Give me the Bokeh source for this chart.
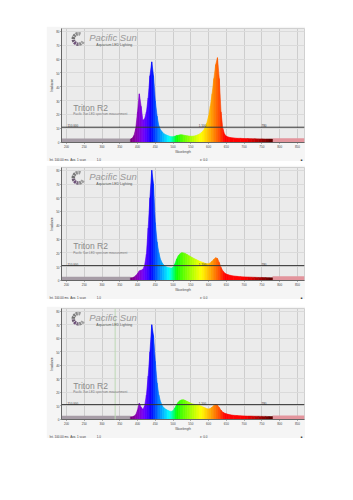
from bokeh.plotting import figure
from bokeh.models import FixedTicker, Span, Label, Title
from bokeh.layouts import column
from bokeh.embed import file_html
from bokeh.resources import INLINE

# ---------------- data ----------------
wavelength = [380, 385, 390, 395, 400, 405, 410, 415, 420, 425, 430, 435, 440, 445,
              450, 455, 460, 465, 470, 475, 480, 485, 490, 495, 500, 505, 510, 515,
              520, 525, 530, 535, 540, 545, 550, 555, 560, 565, 570, 575, 580, 585,
              590, 595, 600, 605, 610, 615, 620, 625, 630, 635, 640, 645, 650, 655,
              660, 670, 680, 690, 700, 710, 720, 730, 740, 750, 760, 770, 780]

spectrum_1 = [0.25, 0.3, 0.5, 1.0, 2.2, 3.5, 2.6, 1.6, 1.7, 2.2, 3.2, 4.8, 5.8, 4.8,
              3.0, 1.9, 1.2, 0.9, 0.75, 0.62, 0.55, 0.5, 0.45, 0.42, 0.42, 0.45, 0.5, 0.52,
              0.55, 0.55, 0.53, 0.5, 0.48, 0.46, 0.45, 0.45, 0.47, 0.5, 0.55, 0.62, 0.72, 0.85,
              1.05, 1.4, 1.9, 2.6, 3.5, 4.6, 5.6, 6.1, 4.6, 2.2, 1.0, 0.6, 0.45, 0.4,
              0.36, 0.33, 0.3, 0.3, 0.28, 0.28, 0.27, 0.27, 0.26, 0.26, 0.25, 0.25, 0.25]

spectrum_2 = [0.2, 0.2, 0.25, 0.35, 0.5, 0.7, 0.75, 0.8, 1.1, 1.9, 3.8, 6.0, 8.0, 7.0,
              4.2, 2.8, 2.0, 1.5, 1.25, 1.1, 1.0, 0.95, 0.92, 0.9, 0.95, 1.2, 1.55, 1.8,
              1.95, 2.02, 2.0, 1.95, 1.88, 1.8, 1.72, 1.65, 1.58, 1.52, 1.46, 1.4, 1.35, 1.3,
              1.25, 1.22, 1.22, 1.28, 1.4, 1.55, 1.65, 1.6, 1.3, 0.95, 0.7, 0.55, 0.47, 0.42,
              0.38, 0.33, 0.3, 0.28, 0.26, 0.25, 0.24, 0.23, 0.22, 0.22, 0.21, 0.2, 0.2]

spectrum_3 = [0.2, 0.2, 0.25, 0.35, 0.7, 1.2, 0.9, 0.75, 1.0, 1.8, 3.2, 5.0, 7.0, 6.2,
              4.3, 2.7, 1.8, 1.3, 1.0, 0.85, 0.75, 0.68, 0.62, 0.6, 0.65, 0.85, 1.1, 1.3,
              1.4, 1.45, 1.45, 1.4, 1.33, 1.27, 1.2, 1.15, 1.12, 1.1, 1.07, 1.03, 0.98, 0.92,
              0.86, 0.8, 0.78, 0.82, 0.92, 1.03, 1.1, 1.05, 0.88, 0.68, 0.55, 0.47, 0.42, 0.38,
              0.35, 0.31, 0.29, 0.27, 0.26, 0.25, 0.25, 0.24, 0.24, 0.23, 0.23, 0.22, 0.22]

spectra = [spectrum_1, spectrum_2, spectrum_3]
threshold_levels = [1.1, 1.08, 1.1]
threshold_texts = ["110.000", "1.100", "780"]
cursor_nm = [None, None, 337]     # faint marker line only in the third chart

x_ticks = [200, 250, 300, 350, 400, 450, 500, 550, 600, 650, 700, 750, 800, 850]
y_ticks = [0, 1, 2, 3, 4, 5, 6, 7, 8]
y_tick_labels = ["0", "10", "20", "30", "40", "50", "60", "70", "80"]

# status bar texts with the number of blank spaces that follow each one
status_texts = ["Int. 100.00 ms", "Avg. 1 scan", "1.0", "x: 0.0", "\u25a0"]
status_gaps = [2, 13, 119, 112, 0]

outside_left_nm = [186, 380]     # measured range starts at 380 nm
outside_right_nm = [780, 870]    # measured range ends at 780 nm
strip_level = 0.28

X_RANGE = (186, 870)
Y_RANGE = (0, 8.2)

# --------------- styling helpers ---------------
def wl_color(w):
    if w < 440:
        r, g, b = -(w - 440) / 60.0, 0.0, 1.0
    elif w < 490:
        r, g, b = 0.0, (w - 440) / 50.0, 1.0
    elif w < 510:
        r, g, b = 0.0, 1.0, -(w - 510) / 20.0
    elif w < 580:
        r, g, b = (w - 510) / 70.0, 1.0, 0.0
    elif w < 645:
        r, g, b = 1.0, -(w - 645) / 65.0, 0.0
    else:
        r, g, b = 1.0, 0.0, 0.0
    if w < 420:
        f = 0.35 + 0.65 * (w - 380) / 40.0
    elif w > 700:
        f = 0.25 + 0.75 * (780 - w) / 80.0
    else:
        f = 1.0
    def c(v):
        return int(round(255 * (max(v, 0) * f) ** 0.8)) if v > 0 else 0
    return "#%02x%02x%02x" % (c(r), c(g), c(b))


PLOT_BG = "#ebebeb"
BORDER_BG = "#f5f5f5"
FONT = "Liberation Sans"

# layout geometry: (top margin, figure height, frame top border, frame bottom border)
geom = [(26, 135, 2, 17), (4, 134, 2, 17), (7, 132, 2, 17)]

status_line = "".join(t + "\u00a0" * g for t, g in zip(status_texts, status_gaps))


def make_panel(idx):
    vals = spectra[idx]
    mtop, h, btop, bbot = geom[idx]
    p = figure(width=259, height=h, x_range=X_RANGE, y_range=Y_RANGE,
               output_backend="svg", toolbar_location=None,
               min_border_left=14, min_border_right=1,
               min_border_top=btop, min_border_bottom=bbot,
               background_fill_color=PLOT_BG, border_fill_color=BORDER_BG,
               outline_line_color="#d0d0d0", margin=(mtop, 0, 0, 46))

    # grid
    p.xaxis.ticker = FixedTicker(ticks=x_ticks)
    p.yaxis.ticker = FixedTicker(ticks=y_ticks)
    p.yaxis.major_label_overrides = {t: l for t, l in zip(y_ticks, y_tick_labels)}
    p.xgrid.grid_line_color = "#cdcdcd"
    p.ygrid.grid_line_color = "#dadada"

    # axes
    for ax in (p.xaxis, p.yaxis):
        ax.axis_line_color = "#666666"
        ax.major_tick_line_color = "#666666"
        ax.major_tick_out = 1
        ax.major_tick_in = 0
        ax.minor_tick_out = 0
        ax.minor_tick_in = 0
        ax.major_label_text_font_size = "3px"
        ax.major_label_text_color = "#444444"
        ax.major_label_text_font = FONT
        ax.major_label_standoff = 1
        ax.axis_label_text_font_size = "3px"
        ax.axis_label_text_font_style = "normal"
        ax.axis_label_text_color = "#444444"
        ax.axis_label_text_font = FONT
        ax.axis_label_standoff = 0
    p.xaxis.axis_label = "Wavelength"
    p.yaxis.axis_label = "Irradiance"

    # status bar row under the chart
    p.add_layout(Title(text=status_line, align="left", offset=-12, standoff=0,
                       text_font=FONT, text_font_size="3px", text_font_style="normal",
                       text_color="#3a3a3a"), "below")

    # optional faint cursor line
    if cursor_nm[idx] is not None:
        p.add_layout(Span(location=cursor_nm[idx], dimension="height",
                          line_color="#bcd9b4", line_width=1))

    # strips outside the measured range
    p.quad(left=[outside_left_nm[0]], right=[outside_left_nm[1]], bottom=[0], top=[strip_level],
           fill_color="#a69ca6", line_color=None)
    p.quad(left=[outside_right_nm[0]], right=[outside_right_nm[1]], bottom=[0], top=[strip_level + 0.02],
           fill_color="#e3959d", line_color=None)

    # spectrum as coloured slices
    xs, ys, cols = [], [], []
    for i in range(len(wavelength) - 1):
        w0, w1 = wavelength[i], wavelength[i + 1]
        v0, v1 = vals[i], vals[i + 1]
        xs.append([w0, w0, w1, w1])
        ys.append([0, v0, v1, 0])
        cols.append(wl_color((w0 + w1) / 2.0))
    p.patches(xs, ys, fill_color=cols, line_color=cols, line_width=0.6)

    # threshold line
    lev = threshold_levels[idx]
    p.add_layout(Span(location=lev, dimension="width", line_color="#333333", line_width=1))
    for xpos, txt in zip([203, 572, 749], threshold_texts):
        p.add_layout(Label(x=xpos, y=lev, text=txt, text_font_size="3px", text_color="#333333",
                           text_font=FONT, text_baseline="bottom"))

    # logo
    shades = ["#9a9a9a", "#8a8a8a", "#7c7c7c", "#707070", "#6a5a70",
              "#6d4f78", "#7a6a80", "#8a8a8a", "#a0a0a0"]
    for k, shade in enumerate(shades):
        a0 = 1.2 + k * 0.52
        p.annular_wedge(x=[234], y=[7.45], inner_radius=3.5, outer_radius=7,
                        inner_radius_units="screen", outer_radius_units="screen",
                        start_angle=a0, end_angle=a0 + 0.4, fill_color=shade, line_color=None)
    p.add_layout(Label(x=264, y=7.55, text="Pacific Sun", text_font="Liberation Sans",
                       text_font_style="italic", text_font_size="9.5px", text_color="#9a9a9a",
                       text_baseline="middle"))
    p.add_layout(Label(x=284, y=7.0, text="Aquarium LED Lighting", text_font=FONT,
                       text_font_size="3.5px", text_color="#555555", text_baseline="middle"))

    # title
    p.add_layout(Label(x=219, y=2.5, text="Triton R2", text_font=FONT, text_font_size="8.5px",
                       text_color="#8a8a8a", text_baseline="middle"))
    p.add_layout(Label(x=219, y=2.05, text="Pacific Sun LED spectrum measurement", text_font=FONT,
                       text_font_size="3px", text_color="#777777", text_baseline="middle"))
    return p


layout = column(make_panel(0), make_panel(1), make_panel(2))
open("out.html", "w").write(file_html(layout, INLINE))
